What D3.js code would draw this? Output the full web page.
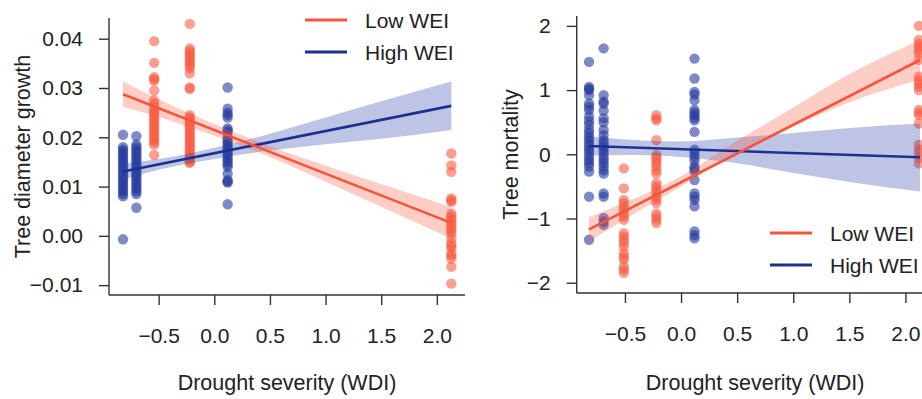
<!DOCTYPE html>
<html>
<head>
<meta charset="utf-8">
<script src="https://cdn.jsdelivr.net/npm/d3@7"></script>
<style>
  body { margin: 0; background: #fff; }
  svg { display: block; font-family: "Liberation Sans", Arial, sans-serif; }
</style>
</head>
<body>
<svg id="chart" width="922" height="399"></svg>
<script>
// WDI positions of the sites
const growthLowX = [-0.54, -0.22, 2.13];
const growthHighX = [-0.82, -0.70, 0.12];
const mortLowX = [-0.51, -0.22, 2.12];
const mortHighX = [-0.82, -0.69, 0.12];

// tree diameter growth, one list per site
const growthLowY = [
  [0.0395, 0.0351, 0.0322, 0.0318, 0.0315, 0.0295, 0.0275, 0.0268, 0.0262, 0.0255, 0.0250, 0.0245, 0.0240, 0.0235, 0.0230,
   0.0225, 0.0220, 0.0215, 0.0210, 0.0205, 0.0200, 0.0195, 0.0190, 0.0185, 0.0164],
  [0.0430, 0.0380, 0.0375, 0.0370, 0.0365, 0.0360, 0.0355, 0.0350, 0.0345, 0.0340, 0.0330, 0.0301, 0.0298, 0.0245, 0.0240,
   0.0235, 0.0230, 0.0225, 0.0220, 0.0215, 0.0210, 0.0205, 0.0200, 0.0195, 0.0190, 0.0185, 0.0180, 0.0175, 0.0170, 0.0165,
   0.0160, 0.0155, 0.0150, 0.0148],
  [0.0167, 0.0143, 0.0130, 0.0076, 0.0072, 0.0069, 0.0045, 0.0040, 0.0035, 0.0030, 0.0025, 0.0020, 0.0015, 0.0010, 0.0005,
   -0.0005, -0.0015, -0.0020, -0.0025, -0.0036, -0.0040, -0.0046, -0.0063, -0.0097]
];
const growthHighY = [
  [0.0205, 0.0180, 0.0175, 0.0170, 0.0165, 0.0160, 0.0155, 0.0150, 0.0145, 0.0140, 0.0135, 0.0130, 0.0125, 0.0120, 0.0115,
   0.0110, 0.0105, 0.0100, 0.0095, 0.0090, 0.0085, 0.0080, -0.0007],
  [0.0202, 0.0185, 0.0180, 0.0175, 0.0170, 0.0165, 0.0160, 0.0155, 0.0150, 0.0145, 0.0140, 0.0135, 0.0130, 0.0125, 0.0120,
   0.0115, 0.0110, 0.0105, 0.0100, 0.0095, 0.0090, 0.0085, 0.0057],
  [0.0301, 0.0258, 0.0250, 0.0245, 0.0240, 0.0218, 0.0214, 0.0210, 0.0200, 0.0195, 0.0190, 0.0185, 0.0180, 0.0175, 0.0170,
   0.0165, 0.0160, 0.0155, 0.0150, 0.0145, 0.0140, 0.0126, 0.0113, 0.0110, 0.0108, 0.0064]
];

// tree mortality, one list per site
const mortLowY = [
  [-0.22, -0.53, -0.71, -0.76, -0.81, -0.86, -0.92, -0.97, -1.02, -1.23, -1.28, -1.33, -1.38, -1.44, -1.54, -1.60, -1.64,
   -1.75, -1.80, -1.85],
  [0.61, 0.56, 0.53, 0.22, -0.01, -0.05, -0.09, -0.14, -0.19, -0.25, -0.30, -0.45, -0.50, -0.55, -0.60, -0.66, -0.71,
   -0.76, -0.92, -0.97, -1.02, -1.07],
  [2.0, 1.78, 1.72, 1.67, 1.62, 1.57, 1.47, 1.21, 1.15, 1.10, 1.05, 1.0, 0.69, 0.65, 0.61, 0.48, 0.15, 0.08, 0.02, -0.06,
   -0.14]
];
const mortHighY = [
  [1.44, 1.05, 1.02, 1.0, 0.92, 0.79, 0.74, 0.69, 0.59, 0.52, 0.46, 0.38, 0.33, 0.27, 0.22, 0.17, 0.12, 0.07, 0.02, -0.04,
   -0.09, -0.14, -0.19, -0.27, -0.66, -1.33],
  [1.65, 0.92, 0.82, 0.79, 0.68, 0.56, 0.50, 0.38, 0.30, 0.22, 0.17, 0.12, 0.07, 0.02, -0.04, -0.09, -0.14, -0.19, -0.25,
   -0.30, -0.61, -0.66, -0.99, -1.05, -1.10],
  [1.49, 1.18, 0.97, 0.93, 0.84, 0.69, 0.65, 0.61, 0.57, 0.53, 0.35, 0.07, 0.02, -0.04, -0.10, -0.19, -0.23, -0.27, -0.40,
   -0.61, -0.66, -0.71, -0.81, -1.20, -1.26, -1.31]
];

// fitted lines (x, fitted) and confidence bands (x, lower, upper)
const growthLowFit = [[-0.82, 0.02874], [2.13, 0.00264]];
const growthHighFit = [[-0.82, 0.01305], [2.13, 0.02637]];
const mortLowFit = [[-0.82, -1.168], [2.13, 1.469]];
const mortHighFit = [[-0.82, 0.129], [2.13, -0.047]];

const growthLowBand = [
  [-0.82, 0.0262, 0.0313], [-0.5, 0.0241, 0.0277], [0, 0.0203, 0.0227], [0.5, 0.0160, 0.0182],
  [1.0, 0.0110, 0.0142], [1.5, 0.0059, 0.0105], [2.13, -0.0006, 0.0058]
];
const growthHighBand = [
  [-0.82, 0.0114, 0.0147], [-0.5, 0.0134, 0.0156], [0, 0.0156, 0.0179], [0.5, 0.0173, 0.0207],
  [1.0, 0.0186, 0.0240], [1.5, 0.0197, 0.0273], [2.13, 0.0215, 0.0313]
];
const mortLowBand = [
  [-0.82, -1.36, -0.98], [-0.5, -1.01, -0.75], [0, -0.50, -0.34], [0.5, 0.03, 0.21],
  [1.0, 0.43, 0.73], [1.5, 0.81, 1.25], [2.13, 1.16, 1.78]
];
const mortHighBand = [
  [-0.82, -0.02, 0.28], [-0.5, -0.01, 0.23], [0, -0.04, 0.20], [0.5, -0.14, 0.26],
  [1.0, -0.29, 0.33], [1.5, -0.43, 0.41], [2.13, -0.58, 0.48]
];

const xTicks = [-0.5, 0, 0.5, 1.0, 1.5, 2.0];
const growthTicks = [-0.01, 0, 0.01, 0.02, 0.03, 0.04];
const mortTicks = [-2, -1, 0, 1, 2];
const seriesNames = ['Low WEI', 'High WEI'];

const red = '#f5563b', blue = '#1b318f';
const font = '"Liberation Sans", Arial, sans-serif';
const svg = d3.select('#chart');

function panel(opt) {
  const x = d3.scaleLinear().domain(opt.xDomain).range(opt.xRange);
  const y = d3.scaleLinear().domain(opt.yDomain).range(opt.yRange);
  const g = svg.append('g');

  const area = d3.area().curve(d3.curveMonotoneX)
    .x(d => x(d[0])).y0(d => y(d[1])).y1(d => y(d[2]));
  const line = d3.line().x(d => x(d[0])).y(d => y(d[1]));

  // points
  [[opt.highX, opt.highY, 'rgba(38,60,160,0.6)'], [opt.lowX, opt.lowY, 'rgba(248,92,66,0.58)']]
    .forEach(([xs, ys, col]) => {
      const pts = xs.flatMap((xv, i) => ys[i].map(v => [xv, v]));
      g.append('g').selectAll('circle').data(pts).enter().append('circle')
        .attr('cx', d => x(d[0])).attr('cy', d => y(d[1]))
        .attr('r', 5.2).attr('fill', col);
    });

  // bands and fits
  g.append('path').attr('d', area(opt.highBand)).attr('fill', 'rgba(40,62,165,0.3)');
  g.append('path').attr('d', area(opt.lowBand)).attr('fill', 'rgba(248,92,66,0.3)');
  g.append('path').attr('d', line(opt.highFit)).attr('stroke', blue).attr('stroke-width', 2.6).attr('fill', 'none');
  g.append('path').attr('d', line(opt.lowFit)).attr('stroke', red).attr('stroke-width', 2.6).attr('fill', 'none');

  // axes
  const yAxis = g.append('g').attr('transform', `translate(${opt.xRange[0]},0)`)
    .call(d3.axisLeft(y).tickValues(opt.yTicks).tickFormat(opt.yFormat).tickSize(10).tickPadding(16));
  const xAxis = g.append('g').attr('transform', `translate(0,${opt.yRange[0]})`)
    .call(d3.axisBottom(x).tickValues(xTicks).tickFormat(d3.format('.1f')).tickSize(10).tickPadding(23));
  [yAxis, xAxis].forEach(a => {
    a.select('.domain').attr('stroke', '#333').attr('stroke-width', 1.4)
      .attr('d', a === yAxis ? `M0,${opt.yRange[0]}V${opt.yRange[1]}` : `M${opt.xRange[0]},0H${opt.xRange[1]}`);
    a.selectAll('.tick line').attr('stroke', '#333').attr('stroke-width', 1.4);
    a.selectAll('.tick text').attr('font-size', 21).attr('fill', '#222').attr('font-family', font);
  });

  // titles
  g.append('text').attr('x', (opt.xRange[0] + opt.xRange[1]) / 2).attr('y', 390)
    .attr('text-anchor', 'middle').attr('font-size', 21.5).attr('fill', '#222')
    .text('Drought severity (WDI)');
  g.append('text')
    .attr('transform', `translate(${opt.yTitleX},${(opt.yRange[0] + opt.yRange[1]) / 2}) rotate(-90)`)
    .attr('text-anchor', 'middle').attr('font-size', 21.5).attr('fill', '#222')
    .text(opt.yTitle);

  // legend
  const leg = g.append('g').attr('transform', `translate(${opt.legend[0]},${opt.legend[1]})`);
  [red, blue].forEach((c, i) => {
    leg.append('line').attr('x1', 0).attr('x2', 42).attr('y1', i * 32).attr('y2', i * 32)
      .attr('stroke', c).attr('stroke-width', 3);
    leg.append('text').attr('x', 60).attr('y', i * 32 + 8).attr('font-size', 21).attr('fill', '#222')
      .text(seriesNames[i]);
  });
}

panel({
  xDomain: [-0.946, 2.253], xRange: [109, 465],
  yDomain: [-0.012, 0.0442], yRange: [295, 18],
  lowX: growthLowX, lowY: growthLowY, highX: growthHighX, highY: growthHighY,
  lowFit: growthLowFit, highFit: growthHighFit, lowBand: growthLowBand, highBand: growthHighBand,
  yTicks: growthTicks, yFormat: d3.format('.2f'),
  yTitle: 'Tree diameter growth', yTitleX: 30, legend: [305, 20]
});

panel({
  xDomain: [-0.93, 2.25], xRange: [576.7, 933.5],
  yDomain: [-2.16, 2.154], yRange: [293, 16],
  lowX: mortLowX, lowY: mortLowY, highX: mortHighX, highY: mortHighY,
  lowFit: mortLowFit, highFit: mortHighFit, lowBand: mortLowBand, highBand: mortHighBand,
  yTicks: mortTicks, yFormat: d3.format('d'),
  yTitle: 'Tree mortality', yTitleX: 518, legend: [770, 233]
});
</script>
</body>
</html>
